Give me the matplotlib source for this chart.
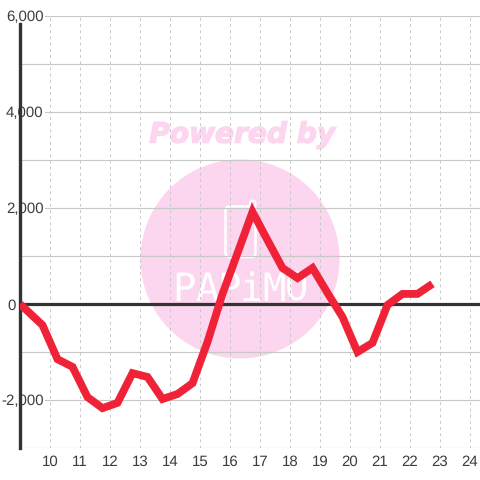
import matplotlib
matplotlib.use("Agg")
import matplotlib.pyplot as plt
import matplotlib.patheffects as pe
from matplotlib.patches import Circle, FancyBboxPatch
from matplotlib.ticker import MultipleLocator

hours = [9.0, 9.75, 10.25, 10.75, 11.25, 11.75, 12.25, 12.75, 13.25, 13.75, 14.25, 14.75,
         15.25, 15.75, 16.25, 16.75, 17.25, 17.75, 18.25, 18.75, 19.25, 19.75, 20.25,
         20.75, 21.25, 21.75, 22.25, 22.75]
values = [0, -440, -1150, -1310, -1940, -2170, -2060, -1440, -1520, -1980, -1875, -1650,
          -790, 210, 1060, 1920, 1330, 750, 540, 750, 230, -270, -1000,
          -810, -20, 210, 210, 420]
x_ticks = list(range(10, 25))
y_ticks = [-2000, 0, 2000, 4000, 6000]
y_labels = ["-2,000", "0", "2,000", "4,000", "6,000"]

plt.rcParams["text.hinting"] = "no_hinting"
plt.rcParams["text.hinting_factor"] = 1

W = 480.0
fig = plt.figure(figsize=(4.8, 4.8), dpi=100, facecolor="white")
ax = fig.add_axes([20 / W, (W - 448) / W, (W - 20) / W, 432 / W])
ax.set_facecolor("none")
ax.set_xlim(9, 9 + (W - 20) / 30)
ax.set_ylim(-3000, 6000)
ax.set_axisbelow(True)


def fx(px):
    return px / W


def fy(py):
    return 1 - py / W


PINK = "#fcd5ee"
fig.add_artist(Circle((fx(240), fy(259)), 99.5 / W, transform=fig.transFigure,
                      fc=PINK, ec="none", zorder=-5))
fig.text(fx(242), fy(135), "Powered by", family="DejaVu Sans", weight="bold", style="italic",
         fontsize=20.2, color=PINK, ha="center", va="center", zorder=-4,
         path_effects=[pe.withStroke(linewidth=1.0, foreground=PINK)])
fig.add_artist(FancyBboxPatch((fx(225.5), fy(257)), 30 / W, 50.5 / W,
                              boxstyle="round,pad=0,rounding_size=0.008",
                              transform=fig.transFigure, fc="none", ec="white", lw=1.8, zorder=-4))
fig.add_artist(FancyBboxPatch((fx(250), fy(207)), 5.5 / W, 6.5 / W,
                              boxstyle="round,pad=0,rounding_size=0.005",
                              transform=fig.transFigure, fc=PINK, ec="white", lw=1.4, zorder=-4))
for i, ch in enumerate("PAPiMO"):
    fig.text(fx(184 + i * 22.6), fy(290), ch, family="DejaVu Sans Mono", fontsize=28,
             color="white", ha="center", va="center", zorder=-4)

ax.set_xticks(x_ticks)
ax.set_yticks(y_ticks)
ax.set_yticklabels(y_labels)
ax.yaxis.set_minor_locator(MultipleLocator(1000))
ax.grid(True, which="major", axis="x", color="#c8c8c8", lw=0.72, ls=(0, (2.8, 3.4)))
ax.grid(True, which="both", axis="y", color="#c8c8c8", lw=0.85)
ax.tick_params(which="both", length=0)
ax.tick_params(axis="x", labelsize=10.8, labelcolor="#3c3c3c", pad=5)
ax.tick_params(axis="y", labelsize=10.8, labelcolor="#3c3c3c")

for s in ("top", "right", "bottom"):
    ax.spines[s].set_visible(False)
ax.spines["left"].set_color("#333333")
ax.spines["left"].set_linewidth(2.4)
ax.spines["left"].set_bounds(-3000, 5830)

ax.axhline(0, color="#333333", lw=2.3, zorder=2)
ax.plot(hours, values, color="#ef2237", lw=5.6, solid_joinstyle="miter",
        solid_capstyle="butt", zorder=3)

for lab in ax.get_xticklabels() + ax.get_yticklabels():
    lab.set_family("Liberation Sans")
for tick, text in zip(ax.yaxis.get_major_ticks(), y_labels):
    tick.set_pad(3.0 if text == "0" else -17.0)
    tick.label1.set_bbox(dict(fc="white", ec="none", pad=0.6))
    tick.label1.set_zorder(4)
fig.savefig("out.png", dpi=100)
